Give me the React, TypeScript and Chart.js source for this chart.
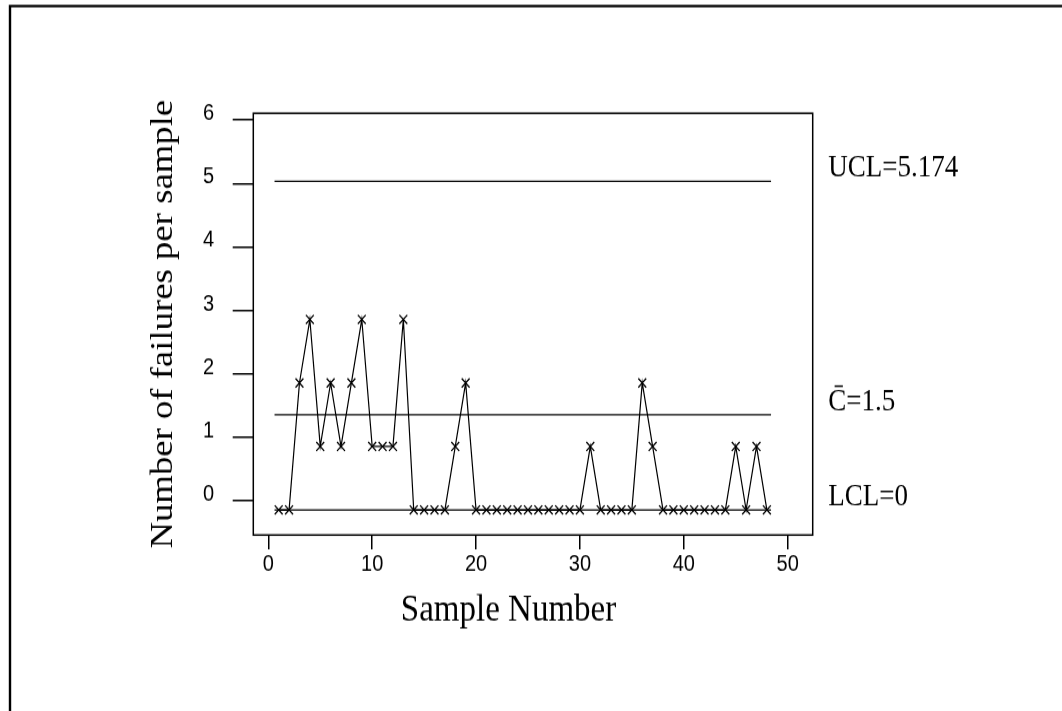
import React, { useEffect, useRef } from "react";
import { Chart, registerables } from "chart.js";

Chart.register(...registerables);

// ---- data ----
const SAMPLES = [
  1, 2, 3, 4, 5, 6, 7, 8, 9, 10, 11, 12, 13, 14, 15, 16, 17, 18, 19, 20, 21, 22, 23, 24,
  25, 26, 27, 28, 29, 30, 31, 32, 33, 34, 35, 36, 37, 38, 39, 40, 41, 42, 43, 44, 45, 46, 47, 48,
];
const FAILURES = [
  0, 0, 2, 3, 1, 2, 1, 2, 3, 1, 1, 1, 3, 0, 0, 0, 0, 1, 2, 0, 0, 0, 0, 0,
  0, 0, 0, 0, 0, 0, 1, 0, 0, 0, 0, 2, 1, 0, 0, 0, 0, 0, 0, 0, 1, 0, 1, 0,
];
const LIMIT_NAMES = ["UCL", "C\u0304", "LCL"];
const LIMIT_VALUES = [5.174, 1.5, 0];
const LIMIT_TEXT = ["UCL=5.174", "C\u0304=1.5", "LCL=0"];
const LIMIT_X_RANGE = [0.6, 48.4];
const X_TICK_LABELS = [0, 10, 20, 30, 40, 50];
const Y_TICK_LABELS = [0, 1, 2, 3, 4, 5, 6];
// the original figure's y tick labels sit slightly above the data values
const Y_TICK_SHIFT = 0.14;
const X_RANGE = [-1.444, 52.41];
const Y_RANGE = [-0.396, 6.247];
const X_TITLE = "Sample Number";
const Y_TITLE = "Number of failures per sample";

// ---- layout (canvas drawn at a lower height and stretched, like the source) ----
const W = 1062;
const H_LOGICAL = 629;
const H_SHOWN = 711;

const framePlugin = {
  id: "frameAndLabels",
  beforeDraw(chart: any) {
    const { ctx } = chart;
    ctx.save();
    ctx.fillStyle = "#fff";
    ctx.fillRect(0, 0, chart.width, chart.height);
    ctx.strokeStyle = "#000";
    ctx.lineWidth = 2.4;
    ctx.beginPath();
    ctx.moveTo(10, H_LOGICAL + 5);
    ctx.lineTo(10, 5.4);
    ctx.lineTo(W + 5, 5.4);
    ctx.stroke();
    ctx.restore();
  },
  afterDraw(chart: any) {
    const { ctx, chartArea: a } = chart;
    const y = chart.scales.y;
    ctx.save();
    ctx.strokeStyle = "#000";
    ctx.lineWidth = 1.5;
    ctx.strokeRect(a.left, a.top, a.right - a.left, a.bottom - a.top);
    ctx.fillStyle = "#000";
    ctx.font = '27px "Liberation Serif"';
    ctx.textAlign = "left";
    ctx.textBaseline = "alphabetic";
    LIMIT_TEXT.forEach((t, i) => {
      ctx.fillText(t, a.right + 15.6, y.getPixelForValue(LIMIT_VALUES[i]) - 4);
    });
    // x axis title (sits left of the plot centre in the source)
    ctx.font = '33px "Liberation Serif"';
    ctx.textAlign = "center";
    ctx.fillText(X_TITLE, 508.5, 548.5);
    ctx.restore();
  },
};

export default function App() {
  const ref = useRef<HTMLCanvasElement | null>(null);

  useEffect(() => {
    if (!ref.current) return;
    const limitSets = LIMIT_VALUES.map((v, i) => ({
      label: LIMIT_NAMES[i],
      data: LIMIT_X_RANGE.map((x) => ({ x, y: v })),
      borderColor: "#000",
      borderWidth: 1.3,
      pointRadius: 0,
      fill: false,
    }));
    const chart = new Chart(ref.current, {
      type: "line",
      data: {
        datasets: [
          {
            label: "Failures",
            data: SAMPLES.map((s, i) => ({ x: s, y: FAILURES[i] })),
            borderColor: "#000",
            borderWidth: 1.2,
            pointStyle: "crossRot",
            pointRadius: 5.6,
            pointBorderWidth: 1.3,
            pointBorderColor: "#000",
            pointBackgroundColor: "#000",
            tension: 0,
            fill: false,
          },
          ...limitSets,
        ],
      },
      plugins: [framePlugin],
      options: {
        animation: false,
        responsive: false,
        devicePixelRatio: 1,
        layout: { padding: { left: 0, top: 100.2, right: 249.3, bottom: 0 } },
        plugins: { legend: { display: false }, tooltip: { enabled: false }, title: { display: false } },
        scales: {
          x: {
            type: "linear",
            min: X_RANGE[0],
            max: X_RANGE[1],
            afterBuildTicks: (scale: any) => {
              scale.ticks = X_TICK_LABELS.map((v) => ({ value: v }));
            },
            afterFit: (scale: any) => {
              scale.height = H_LOGICAL - 473.3;
            },
            grid: { drawOnChartArea: false, drawTicks: true, tickLength: 12.6, color: "#000", lineWidth: 1.5 },
            border: { display: false },
            ticks: {
              color: "#000",
              padding: 1.2,
              maxRotation: 0,
              autoSkip: false,
              font: { family: '"Liberation Sans"', size: 20 },
              callback: (_v: any, i: number) => String(X_TICK_LABELS[i]),
            },
            title: { display: false, text: X_TITLE },
          },
          y: {
            type: "linear",
            min: Y_RANGE[0],
            max: Y_RANGE[1],
            afterBuildTicks: (scale: any) => {
              scale.ticks = Y_TICK_LABELS.map((v) => ({ value: v + Y_TICK_SHIFT }));
            },
            afterFit: (scale: any) => {
              scale.width = 253.3;
            },
            grid: { drawOnChartArea: false, drawTicks: true, tickLength: 20.6, color: "#000", lineWidth: 1.5 },
            border: { display: false },
            ticks: {
              color: "#000",
              padding: 18.5,
              labelOffset: -5.7,
              autoSkip: false,
              font: { family: '"Liberation Sans"', size: 20 },
              callback: (_v: any, i: number) => String(Y_TICK_LABELS[i]),
            },
            title: {
              display: true,
              text: Y_TITLE,
              color: "#000",
              font: { family: '"Liberation Serif"', size: 32.5 },
              padding: { top: 144, bottom: 0 },
            },
          },
        },
      },
    } as any);
    return () => chart.destroy();
  }, []);

  return (
    <div style={{ position: "absolute", left: 0, top: 0, width: W, height: H_SHOWN, background: "#fff" }}>
      <canvas
        ref={ref}
        width={W}
        height={H_LOGICAL}
        style={{ width: `${W}px`, height: `${H_SHOWN}px`, display: "block" }}
      />
    </div>
  );
}
